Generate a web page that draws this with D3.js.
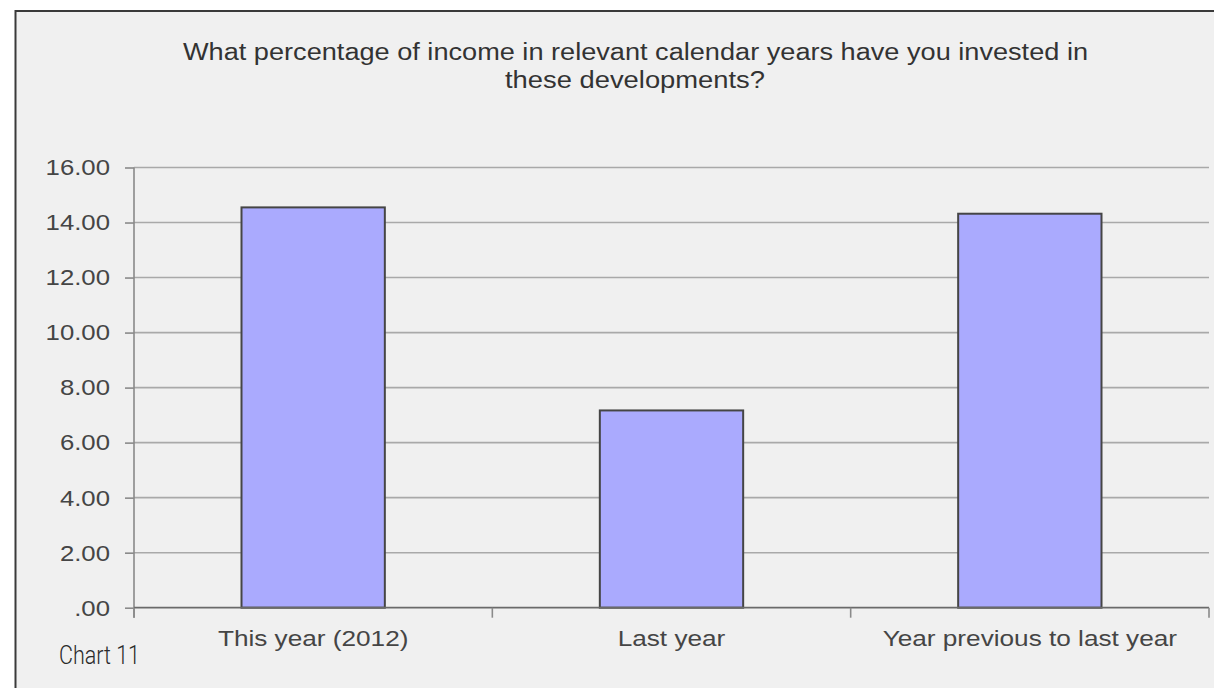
<!DOCTYPE html>
<html>
<head>
<meta charset="utf-8">
<script src="https://cdn.jsdelivr.net/npm/d3@7"></script>
<style>
  html, body { margin: 0; padding: 0; background: #ffffff; }
  svg { display: block; }
</style>
</head>
<body>
<svg id="chart" width="1214" height="688"></svg>
<script>
// Survey answers: share of income invested, by calendar year
const categories = ["This year (2012)", "Last year", "Year previous to last year"];
const values = [14.55, 7.17, 14.32];
const yTicks = [0, 2, 4, 6, 8, 10, 12, 14, 16];
const titleLines = [
  "What percentage of income in relevant calendar years have you invested in",
  "these developments?"
];
const footnote = "Chart 11";

const svg = d3.select("#chart");
const W = 1214, H = 688;
const frame = { left: 15, top: 10 };
const plot = { left: 134, right: 1209, top: 167.5, bottom: 607.7 };
const sansFont = "'Liberation Sans', Arial, sans-serif";
const stretch = 1.19; // horizontal widening of the label glyphs

// panel background with the frame on its top and left edges
svg.append("rect")
  .attr("x", frame.left).attr("y", frame.top)
  .attr("width", W - frame.left).attr("height", H - frame.top)
  .attr("fill", "#f0f0f0");
svg.append("path")
  .attr("d", `M${frame.left + 0.5},${H} V${frame.top + 1} H${W}`)
  .attr("fill", "none").attr("stroke", "#3a3a3a").attr("stroke-width", 2);

const x = d3.scaleBand()
  .domain(categories)
  .range([plot.left, plot.right])
  .paddingInner(0.6)
  .paddingOuter(0.3);

const y = d3.scaleLinear()
  .domain([0, 16])
  .range([plot.bottom, plot.top]);

const fmt = d => d === 0 ? ".00" : d3.format(".2f")(d);

// horizontal gridlines
svg.append("g")
  .selectAll("line")
  .data(yTicks.filter(d => d > 0))
  .join("line")
  .attr("x1", plot.left).attr("x2", plot.right)
  .attr("y1", d => y(d)).attr("y2", d => y(d))
  .attr("stroke", "#a9a9a9").attr("stroke-width", 1.6);

// value axis
const yAxis = svg.append("g")
  .attr("transform", `translate(${plot.left},0)`)
  .call(d3.axisLeft(y).tickValues(yTicks).tickFormat(fmt).tickSize(9).tickPadding(14));
yAxis.select(".domain").attr("stroke", "#8a8a8a").attr("stroke-width", 1.6)
  .attr("d", `M0,${plot.top} V${plot.bottom + 10}`);
yAxis.selectAll(".tick line").attr("stroke", "#8a8a8a").attr("stroke-width", 1.6);
yAxis.selectAll(".tick text")
  .attr("x", 0)
  .attr("transform", "translate(-24,0) scale(1.12,1)")
  .attr("fill", "#454545")
  .style("font-family", sansFont)
  .style("font-size", "23px");

// bars
svg.append("g")
  .selectAll("rect")
  .data(categories)
  .join("rect")
  .attr("x", d => x(d))
  .attr("y", (d, i) => y(values[i]))
  .attr("width", x.bandwidth())
  .attr("height", (d, i) => y(0) - y(values[i]))
  .attr("fill", "#aaaafe")
  .attr("stroke", "#454545")
  .attr("stroke-width", 2);

// category axis with ticks on category boundaries
const step = x.step();
const boundaries = d3.range(categories.length + 1).map(i => plot.left + i * step);
svg.append("line")
  .attr("x1", plot.left).attr("x2", plot.right)
  .attr("y1", y(0)).attr("y2", y(0))
  .attr("stroke", "#6a6a6a").attr("stroke-width", 1.8);
svg.append("g")
  .selectAll("line")
  .data(boundaries)
  .join("line")
  .attr("x1", d => d).attr("x2", d => d)
  .attr("y1", y(0)).attr("y2", y(0) + 10)
  .attr("stroke", "#8a8a8a").attr("stroke-width", 1.6);

svg.append("g")
  .selectAll("text")
  .data(categories)
  .join("text")
  .attr("transform", d => `translate(${x(d) + x.bandwidth() / 2},646) scale(${stretch},1)`)
  .attr("text-anchor", "middle")
  .attr("fill", "#454545")
  .style("font-family", sansFont)
  .style("font-size", "22px")
  .text(d => d);

// title, two centred lines stretched to their set widths
const titleSpans = [[183, 1088], [505, 765]];
svg.append("g")
  .selectAll("text")
  .data(titleLines)
  .join("text")
  .attr("x", (d, i) => titleSpans[i][0])
  .attr("y", (d, i) => 60 + i * 28)
  .attr("textLength", (d, i) => titleSpans[i][1] - titleSpans[i][0])
  .attr("lengthAdjust", "spacingAndGlyphs")
  .attr("fill", "#333333")
  .style("font-family", sansFont)
  .style("font-size", "23px")
  .text(d => d);

// footnote
svg.append("text")
  .attr("transform", "translate(59,664) scale(0.86,1)")
  .attr("fill", "#2a2a2a")
  .style("font-family", "'Roboto', 'Noto Sans', sans-serif")
  .style("font-size", "25px")
  .style("font-weight", "300")
  .text(footnote);
</script>
</body>
</html>
